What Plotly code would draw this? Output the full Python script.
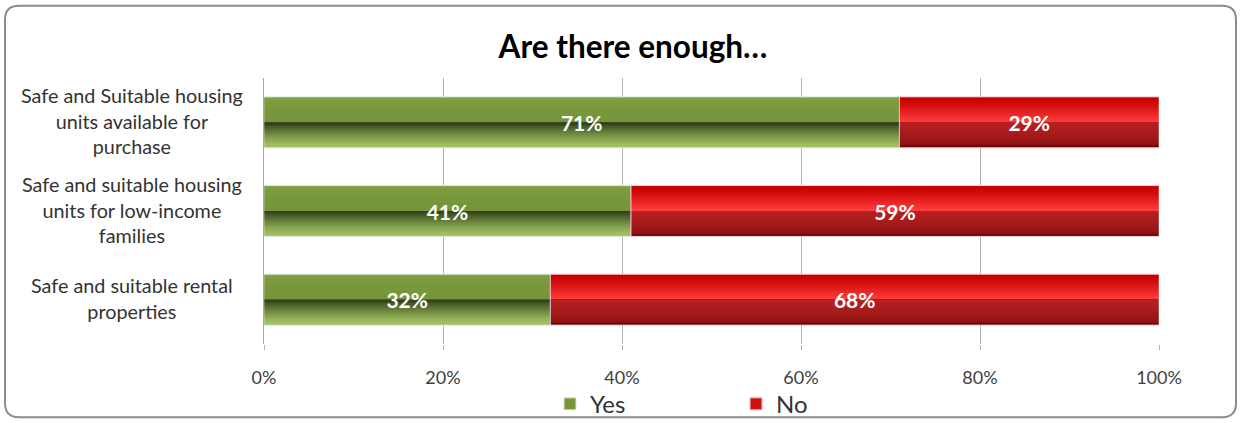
import plotly.graph_objects as go

categories = [
    "Safe and Suitable housing<br>units available for<br>purchase",
    "Safe and suitable housing<br>units for low-income<br>families",
    "Safe and suitable rental<br>properties",
]
yes_vals = [71, 41, 32]
no_vals = [29, 59, 68]
series_names = ["Yes", "No"]
tick_vals = [0, 20, 40, 60, 80, 100]
tick_text = ["0%", "20%", "40%", "60%", "80%", "100%"]

FONT = "Lato, 'Open Sans', sans-serif"
W = 0.573          # bar thickness in category units
H = W / 2
STEPS = 14

# bottom-to-top order for plotting
cats_plot = categories[::-1]
yes_p = yes_vals[::-1]
no_p = no_vals[::-1]
yes_base = [0] * len(yes_p)
no_base = yes_p

fig = go.Figure()


def mix(c1, c2, t):
    a = [int(c1[i:i + 2], 16) for i in (1, 3, 5)]
    b = [int(c2[i:i + 2], 16) for i in (1, 3, 5)]
    return "#" + "".join(f"{round(a[k] + (b[k] - a[k]) * t):02x}" for k in range(3))


def layer(x, base, color, width, offset, name=None, legend=False, line=None):
    fig.add_trace(go.Bar(
        y=cats_plot, x=x, base=base, orientation="h",
        width=width, offset=offset,
        marker=dict(color=color, line=line or dict(width=0)),
        name=name, showlegend=legend, hoverinfo="skip",
    ))


def bevel(x, base, full, top_edge, top_mid, bot_mid, bot_edge, name, edge_line,
          gamma_top=1.0, gamma_bot=1.0):
    layer(x, base, full, W, -H, name=name, legend=True,
          line=dict(color=edge_line, width=1))
    # top half: nested bands anchored at the middle, edge colour first
    for i in range(STEPS):
        f = 1 - i / STEPS            # band reaches this fraction of the half height
        t = (i / (STEPS - 1)) ** gamma_top
        layer(x, base, mix(top_edge, top_mid, t), H * f * 0.985, 0)
    # bottom half
    for i in range(STEPS):
        f = 1 - i / STEPS
        t = (i / (STEPS - 1)) ** gamma_bot
        layer(x, base, mix(bot_edge, bot_mid, t), H * f * 0.985, -H * f * 0.985)


bevel(yes_p, yes_base, "#789639", "#82a244", "#76943a", "#33431a", "#a2c160",
      series_names[0], "#dfe8c8", gamma_top=0.4, gamma_bot=1.3)
bevel(no_p, no_base, "#d01010", "#c80000", "#ff3c3c", "#b52020", "#6c0606",
      series_names[1], "#f4b8b8", gamma_top=1.2, gamma_bot=0.35)

# ---- value labels ----
for vals, base in [(yes_p, yes_base), (no_p, no_base)]:
    fig.add_trace(go.Bar(
        y=cats_plot, x=vals, base=base, orientation="h", width=W, offset=-H,
        marker=dict(color="rgba(0,0,0,0)"),
        text=[f"{v}%" for v in vals], textposition="inside",
        insidetextanchor="middle",
        textfont=dict(family=FONT, size=21, color="white", weight="bold"),
        showlegend=False, hoverinfo="skip",
    ))

# category labels, centred multi-line
for c in categories:
    fig.add_annotation(
        x=-0.1475, xref="paper", y=c, yref="y", yshift=1.5, text=c, showarrow=False,
        xanchor="center", yanchor="middle", align="center",
        font=dict(family=FONT, size=19.8, color="#333333"),
    )

# rounded border around the chart (paper coords)
PL, PR, PT, PB = 264, 1159, 77.5, 344.5
def px(x):
    return (x - PL) / (PR - PL)
def py(y):
    return (PB - y) / (PB - PT)
x0, x1, y0, y1, r = 5, 1236, 5, 418, 14
path = (f"M {px(x0 + r)} {py(y0)} L {px(x1 - r)} {py(y0)} "
        f"Q {px(x1)} {py(y0)} {px(x1)} {py(y0 + r)} L {px(x1)} {py(y1 - r)} "
        f"Q {px(x1)} {py(y1)} {px(x1 - r)} {py(y1)} L {px(x0 + r)} {py(y1)} "
        f"Q {px(x0)} {py(y1)} {px(x0)} {py(y1 - r)} L {px(x0)} {py(y0 + r)} "
        f"Q {px(x0)} {py(y0)} {px(x0 + r)} {py(y0)} Z")
fig.add_shape(type="path", path=path, xref="paper", yref="paper",
              line=dict(color="#8c8c8c", width=2), layer="above")

fig.update_layout(
    width=1241, height=423,
    margin=dict(l=264, r=1241 - 1159, t=77.5, b=423 - 344.5, autoexpand=False),
    paper_bgcolor="white", plot_bgcolor="white",
    barmode="overlay", bargap=0.43,
    title=dict(text="<b>Are there enough…</b>", x=633 / 1241, xanchor="center",
               y=1 - 47 / 423, yanchor="middle",
               font=dict(family=FONT, size=31.5, color="black")),
    font=dict(family=FONT, color="#404040"),
    xaxis=dict(range=[0, 100], tickvals=tick_vals, ticktext=tick_text,
               showgrid=True, gridcolor="#b3b3b3", gridwidth=1,
               zeroline=False, showline=False,
               ticks="outside", ticklen=5, tickcolor="#b3b3b3",
               ticklabelstandoff=12,
               tickfont=dict(family=FONT, size=18, color="#404040")),
    yaxis=dict(categoryorder="array", categoryarray=cats_plot,
               showticklabels=False, showgrid=False, zeroline=False,
               showline=True, linecolor="#a6a6a6", linewidth=1),
    legend=dict(orientation="h", x=(550 - 264) / 895, xanchor="left",
                y=-(405 - 344.5) / 267, yanchor="middle",
                bgcolor="rgba(0,0,0,0)",
                font=dict(family=FONT, size=24, color="#333333"),
                entrywidth=141, itemwidth=30, traceorder="normal"),
)

fig.write_html("out.html", post_script="document.body.style.margin='0px';",
               config={"displayModeBar": False})
